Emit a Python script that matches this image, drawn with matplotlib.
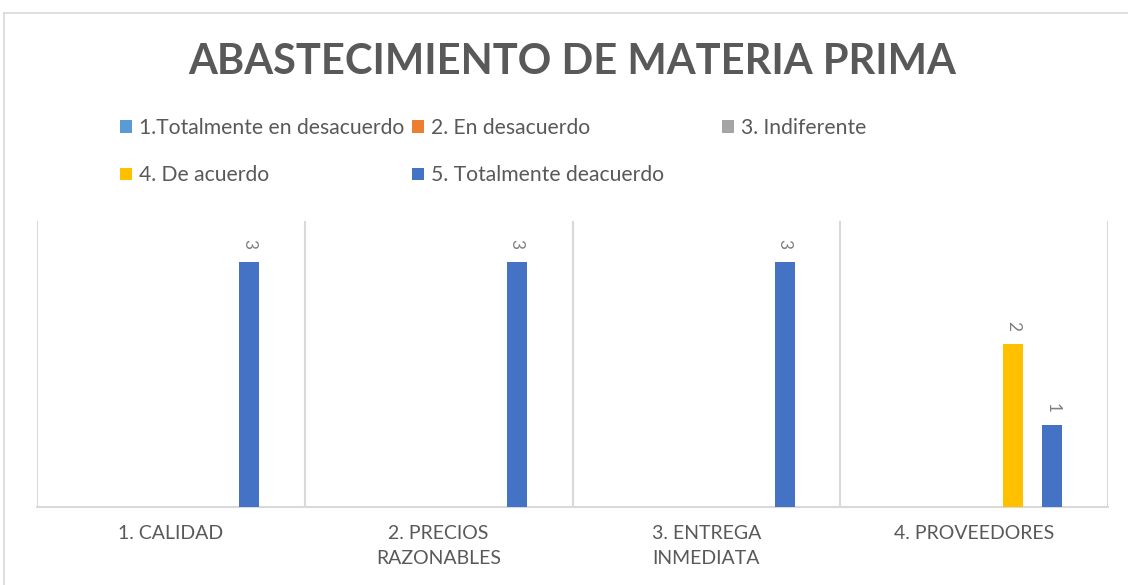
import matplotlib
matplotlib.use("Agg")
import matplotlib.pyplot as plt
from matplotlib.lines import Line2D
import numpy as np

# data
CATEGORIES = ["1. CALIDAD", "2. PRECIOS\nRAZONABLES", "3. ENTREGA\nINMEDIATA", "4. PROVEEDORES"]
SERIES = ["1.Totalmente en desacuerdo", "2. En desacuerdo", "3. Indiferente",
          "4. De acuerdo", "5. Totalmente deacuerdo"]
VALUES = [
    [0, 0, 0, 0],   # 1.Totalmente en desacuerdo
    [0, 0, 0, 0],   # 2. En desacuerdo
    [0, 0, 0, 0],   # 3. Indiferente
    [0, 0, 0, 2],   # 4. De acuerdo
    [3, 3, 3, 1],   # 5. Totalmente deacuerdo
]
COLORS = ["#5B9BD5", "#ED7D31", "#A5A5A5", "#FFC000", "#4472C4"]
TEXT = "#595959"
GRID = "#D9D9D9"

plt.rcParams["font.family"] = ["Lato", "DejaVu Sans"]

fig = plt.figure(figsize=(11.28, 5.85), dpi=100)
ax = fig.add_axes([37 / 1128, 78 / 585, 1071 / 1128, 286 / 585])

# outer chart frame (top and left edges visible)
fig.add_artist(Line2D([4 / 1128, 4 / 1128], [0, 1 - 13 / 585], transform=fig.transFigure,
                      color=GRID, lw=1.2))
fig.add_artist(Line2D([4 / 1128, 1], [1 - 13 / 585, 1 - 13 / 585], transform=fig.transFigure,
                      color=GRID, lw=1.2))

x = np.arange(len(CATEGORIES)) + 0.5
step = 0.146
width = 0.075
for i, (name, vals, col) in enumerate(zip(SERIES, VALUES, COLORS)):
    pos = x + (i - 2) * step
    bars = ax.bar(pos, vals, width=width, color=col, label=name, zorder=3)
    for b, v in zip(bars, vals):
        if v:
            ax.annotate(str(v), (b.get_x() + b.get_width() / 2, v), xytext=(0, 9),
                        textcoords="offset points", rotation=270, ha="center", va="bottom",
                        fontsize=12.5, color="#7F7F7F")

ax.set_xlim(0, len(CATEGORIES))
ax.set_ylim(0, 3.5)
ax.set_xticks(x)
ax.set_xticklabels(CATEGORIES, fontsize=14, color=TEXT, linespacing=1.55)
ax.tick_params(axis="x", length=0, pad=13)
ax.set_yticks([])
for s in ["top", "right", "left"]:
    ax.spines[s].set_visible(False)
ax.spines["bottom"].set_color(GRID)
ax.spines["bottom"].set_linewidth(1.5)
for b in range(len(CATEGORIES) + 1):
    ax.axvline(b, color=GRID, lw=1.5, zorder=1)

fig.suptitle("ABASTECIMIENTO DE MATERIA PRIMA", x=572 / 1128, y=1 - 62 / 585, va="center",
             fontsize=30, fontweight="bold", color=TEXT)

# legend laid out row-wise in three fixed columns, as in the original
handles, labels = ax.get_legend_handles_labels()
columns = [(120, [0, 3]), (412, [1, 4]), (722, [2])]
for xpix, idx in columns:
    fig.legend([handles[k] for k in idx], [labels[k] for k in idx],
               loc="upper left", bbox_to_anchor=(xpix / 1128, 1 - 118 / 585),
               frameon=False, fontsize=15.2, labelcolor=TEXT, handlelength=0.55,
               handleheight=0.55, handletextpad=0.35, labelspacing=1.3,
               borderpad=0, borderaxespad=0)

fig.savefig("out.png", dpi=100)
